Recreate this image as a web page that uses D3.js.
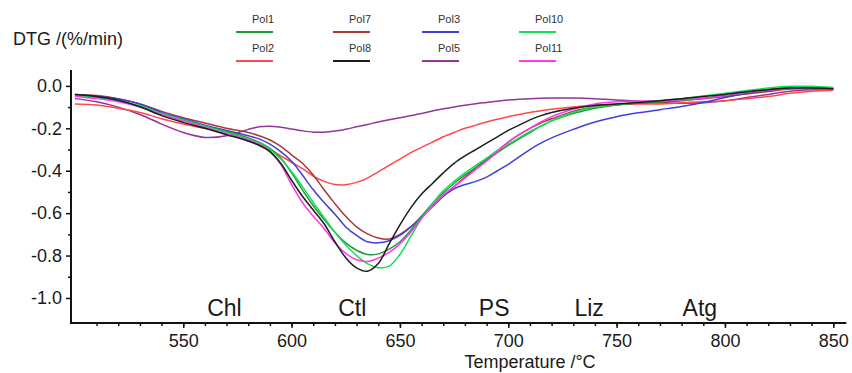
<!DOCTYPE html>
<html><head><meta charset="utf-8">
<script src="https://cdn.jsdelivr.net/npm/d3@7"></script>
<style>html,body{margin:0;padding:0;background:#fff;}svg{display:block;font-family:"Liberation Sans",Arial,sans-serif;}</style>
</head><body><div id="chart"></div>
<script>
const temps = [500,510,520,530,540,550,560,570,580,585,590,595,600,605,610,615,620,625,630,635,640,645,650,655,660,665,670,675,680,685,690,695,700,705,710,715,720,730,740,750,760,770,780,790,800,810,820,830,840,850];

const pol1 = [-0.045,-0.055,-0.07,-0.095,-0.13,-0.16,-0.19,-0.215,-0.245,-0.265,-0.295,-0.34,-0.41,-0.49,-0.565,-0.63,-0.69,-0.74,-0.775,-0.795,-0.792,-0.77,-0.735,-0.68,-0.615,-0.555,-0.505,-0.46,-0.42,-0.385,-0.35,-0.315,-0.28,-0.25,-0.22,-0.19,-0.165,-0.13,-0.105,-0.09,-0.08,-0.075,-0.068,-0.058,-0.045,-0.03,-0.015,-0.006,-0.005,-0.01];
const pol2 = [-0.085,-0.09,-0.105,-0.125,-0.155,-0.18,-0.2,-0.225,-0.26,-0.28,-0.3,-0.33,-0.36,-0.39,-0.425,-0.45,-0.465,-0.466,-0.455,-0.435,-0.405,-0.375,-0.345,-0.315,-0.29,-0.265,-0.24,-0.22,-0.2,-0.185,-0.17,-0.157,-0.145,-0.135,-0.125,-0.117,-0.11,-0.1,-0.09,-0.085,-0.085,-0.085,-0.08,-0.075,-0.07,-0.06,-0.05,-0.035,-0.025,-0.02];
const pol7 = [-0.04,-0.045,-0.06,-0.085,-0.12,-0.15,-0.175,-0.2,-0.22,-0.235,-0.255,-0.285,-0.325,-0.365,-0.42,-0.49,-0.555,-0.615,-0.665,-0.698,-0.717,-0.722,-0.7,-0.665,-0.62,-0.57,-0.52,-0.475,-0.43,-0.385,-0.345,-0.305,-0.265,-0.23,-0.2,-0.175,-0.155,-0.12,-0.1,-0.09,-0.082,-0.078,-0.07,-0.06,-0.05,-0.038,-0.026,-0.015,-0.012,-0.015];
const pol8 = [-0.04,-0.05,-0.068,-0.098,-0.14,-0.172,-0.2,-0.23,-0.26,-0.28,-0.31,-0.365,-0.445,-0.52,-0.585,-0.65,-0.735,-0.81,-0.858,-0.874,-0.838,-0.745,-0.655,-0.575,-0.51,-0.46,-0.41,-0.365,-0.33,-0.3,-0.27,-0.24,-0.21,-0.185,-0.16,-0.14,-0.125,-0.105,-0.092,-0.085,-0.078,-0.07,-0.06,-0.05,-0.04,-0.028,-0.018,-0.01,-0.01,-0.013];
const pol3 = [-0.04,-0.048,-0.062,-0.085,-0.125,-0.155,-0.185,-0.21,-0.235,-0.25,-0.275,-0.31,-0.355,-0.42,-0.49,-0.55,-0.605,-0.665,-0.705,-0.735,-0.74,-0.73,-0.705,-0.665,-0.615,-0.565,-0.52,-0.485,-0.465,-0.45,-0.43,-0.4,-0.37,-0.335,-0.3,-0.27,-0.245,-0.205,-0.17,-0.145,-0.127,-0.112,-0.097,-0.078,-0.055,-0.035,-0.02,-0.01,-0.01,-0.012];
const pol5 = [-0.06,-0.075,-0.1,-0.135,-0.18,-0.22,-0.243,-0.235,-0.205,-0.193,-0.19,-0.195,-0.203,-0.212,-0.218,-0.218,-0.213,-0.204,-0.193,-0.182,-0.17,-0.16,-0.15,-0.14,-0.13,-0.118,-0.108,-0.099,-0.091,-0.084,-0.078,-0.072,-0.067,-0.063,-0.06,-0.058,-0.057,-0.057,-0.06,-0.066,-0.072,-0.078,-0.082,-0.08,-0.07,-0.055,-0.04,-0.025,-0.018,-0.016];
const pol10 = [-0.045,-0.055,-0.07,-0.095,-0.13,-0.16,-0.19,-0.22,-0.25,-0.27,-0.3,-0.345,-0.405,-0.475,-0.55,-0.62,-0.69,-0.75,-0.8,-0.838,-0.857,-0.85,-0.795,-0.71,-0.625,-0.555,-0.495,-0.45,-0.41,-0.375,-0.34,-0.305,-0.275,-0.245,-0.215,-0.19,-0.165,-0.125,-0.1,-0.088,-0.078,-0.07,-0.06,-0.048,-0.035,-0.022,-0.01,-0.002,-0.002,-0.008];
const pol11 = [-0.05,-0.06,-0.075,-0.1,-0.135,-0.165,-0.195,-0.225,-0.255,-0.275,-0.31,-0.37,-0.465,-0.55,-0.615,-0.672,-0.74,-0.79,-0.82,-0.828,-0.812,-0.785,-0.745,-0.69,-0.625,-0.565,-0.515,-0.475,-0.435,-0.395,-0.355,-0.31,-0.265,-0.23,-0.2,-0.17,-0.145,-0.11,-0.085,-0.075,-0.072,-0.07,-0.065,-0.058,-0.045,-0.03,-0.02,-0.012,-0.012,-0.015];

const seriesNames = ["Pol1","Pol2","Pol7","Pol8","Pol3","Pol5","Pol10","Pol11"];
const seriesValues = [pol1,pol2,pol7,pol8,pol3,pol5,pol10,pol11];
const seriesColors = ["#1f9a3c","#ff4848","#a8383a","#1c1c1c","#3f3fdc","#95359a","#10e050","#ff38f0"];
const drawOrder = ["Pol5","Pol2","Pol7","Pol3","Pol1","Pol10","Pol11","Pol8"];

const xTicks = [550,600,650,700,750,800,850];
const yTicks = [0,-0.2,-0.4,-0.6,-0.8,-1.0];
const yTickLabels = ["0.0","-0.2","-0.4","-0.6","-0.8","-1.0"];
const phaseLabels = ["Chl","Ctl","PS","Liz","Atg"];
const phaseTemps = [569,628,693.5,737.3,788.4];

const W = 852, H = 373;
const svg = d3.select("#chart").append("svg").attr("width", W).attr("height", H);

const x = d3.scaleLinear().domain([498.2, 856]).range([71, 846.3]);
const y = d3.scaleLinear().domain([0.075, -1.118]).range([70, 323]);
const axisY = y(-1.118), axisX = x(498.2);

// phase labels
svg.append("g").selectAll("text").data(phaseLabels).join("text")
  .attr("x", (d,i) => x(phaseTemps[i])).attr("y", 316)
  .attr("text-anchor", "middle").attr("font-size", 23).attr("fill", "#1a1a1a").text(d => d);

// curves
const line = d3.line().x(d => x(d[0])).y(d => y(d[1])).curve(d3.curveCatmullRom.alpha(0.5));
drawOrder.forEach(name => {
  const i = seriesNames.indexOf(name);
  svg.append("path").datum(temps.map((t,k) => [t, seriesValues[i][k]]))
    .attr("d", line).attr("fill", "none").attr("stroke", seriesColors[i])
    .attr("stroke-width", 1.5).attr("stroke-linejoin", "round");
});

// x axis
const gx = svg.append("g").attr("transform", `translate(0,${axisY})`);
gx.call(d3.axisBottom(x).tickValues(d3.range(510, 851, 10)).tickSize(3).tickFormat(""));
gx.select(".domain").remove();
gx.selectAll("line").attr("stroke", "#111").attr("stroke-width", 1.5);
const gx2 = svg.append("g").attr("transform", `translate(0,${axisY})`);
gx2.call(d3.axisBottom(x).tickValues(xTicks).tickSize(5).tickPadding(6).tickFormat(d3.format("d")));
gx2.select(".domain").remove();
gx2.selectAll("line").attr("stroke", "#111").attr("stroke-width", 1.5);
gx2.selectAll("text").attr("font-size", 18).attr("fill", "#1a1a1a").attr("font-family", "Liberation Sans, Arial, sans-serif");
svg.append("line").attr("x1", axisX - 1).attr("x2", x(856)).attr("y1", axisY).attr("y2", axisY)
  .attr("stroke", "#111").attr("stroke-width", 2);

// y axis
const gy = svg.append("g").attr("transform", `translate(${axisX},0)`);
gy.call(d3.axisLeft(y).tickValues([-0.1,-0.3,-0.5,-0.7,-0.9]).tickSize(3).tickFormat(""));
gy.select(".domain").remove();
gy.selectAll("line").attr("stroke", "#111").attr("stroke-width", 1.5);
const gy2 = svg.append("g").attr("transform", `translate(${axisX},0)`);
gy2.call(d3.axisLeft(y).tickValues(yTicks).tickSize(5).tickPadding(4).tickFormat((d,i) => yTickLabels[i]));
gy2.select(".domain").remove();
gy2.selectAll("line").attr("stroke", "#111").attr("stroke-width", 1.5);
gy2.selectAll("text").attr("font-size", 18).attr("fill", "#1a1a1a").attr("font-family", "Liberation Sans, Arial, sans-serif");
svg.append("line").attr("x1", axisX).attr("x2", axisX).attr("y1", 70).attr("y2", axisY + 1)
  .attr("stroke", "#111").attr("stroke-width", 2);

// axis titles
svg.append("text").attr("x", 13).attr("y", 45).attr("font-size", 18).attr("fill", "#1a1a1a").text("DTG /(%/min)");
svg.append("text").attr("x", 530).attr("y", 368).attr("text-anchor", "middle").attr("font-size", 18).attr("fill", "#1a1a1a").text("Temperature /°C");

// legend
const legendCols = [["Pol1","Pol2"],["Pol7","Pol8"],["Pol3","Pol5"],["Pol10","Pol11"]];
const legendX = [236, 333, 422, 519];
const legendRowY = [32, 61];
const lg = svg.append("g");
legendCols.forEach((col, c) => col.forEach((name, r) => {
  const i = seriesNames.indexOf(name);
  lg.append("line").attr("x1", legendX[c]).attr("x2", legendX[c] + 37)
    .attr("y1", legendRowY[r]).attr("y2", legendRowY[r])
    .attr("stroke", seriesColors[i]).attr("stroke-width", 2);
  lg.append("text").attr("x", legendX[c] + 16).attr("y", legendRowY[r] - 9)
    .attr("font-size", 11).attr("fill", "#333").text(name);
}));
</script></body></html>
